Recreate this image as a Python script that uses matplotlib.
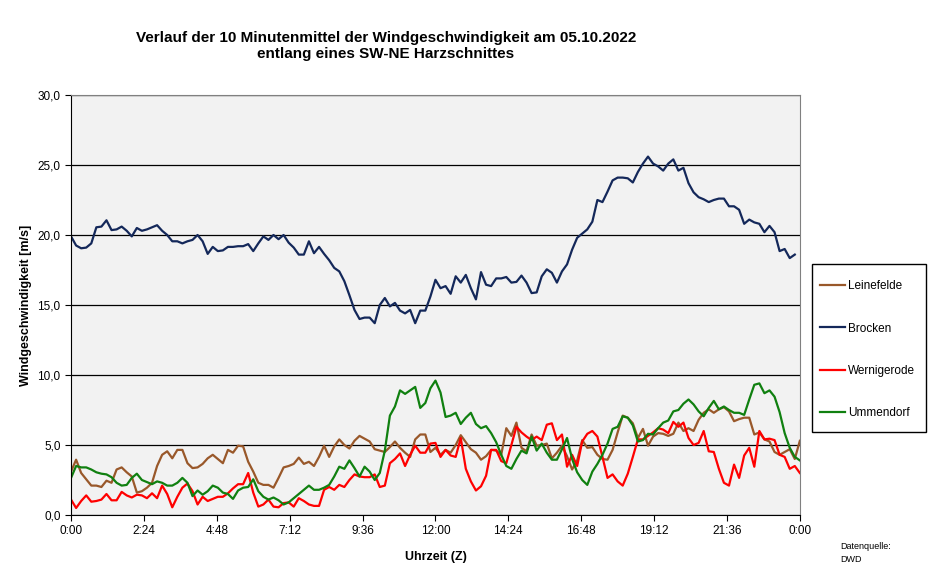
import numpy as np
import matplotlib
matplotlib.use("Agg")
import matplotlib.pyplot as plt
from matplotlib.patches import Rectangle

plt.rcParams["font.family"] = ["Liberation Sans", "DejaVu Sans"]

# 10-Minutenmittel, Index 0 = 0:00
brocken = [19.9, 19.25, 19.05, 19.1, 19.4, 20.55, 20.6, 21.05, 20.35, 20.4,
           20.6, 20.3, 19.9, 20.5, 20.3, 20.4, 20.55, 20.7, 20.3, 20.0,
           19.55, 19.55, 19.4, 19.55, 19.65, 20.0, 19.55, 18.65, 19.15, 18.85,
           18.9, 19.15, 19.15, 19.2, 19.2, 19.35, 18.85, 19.4, 19.9, 19.65,
           20.0, 19.7, 20.0, 19.45, 19.1, 18.6, 18.6, 19.55, 18.7, 19.15,
           18.65, 18.2, 17.65, 17.4, 16.7, 15.7, 14.65, 14.0, 14.1, 14.1,
           13.7, 15.0, 15.5, 14.9, 15.15, 14.6, 14.4, 14.65, 13.7, 14.6,
           14.6, 15.6, 16.8, 16.2, 16.35, 15.8, 17.05, 16.6, 17.15, 16.2,
           15.4, 17.35, 16.45, 16.35, 16.9, 16.9, 17.0, 16.6, 16.65, 17.1,
           16.6, 15.85, 15.9, 17.05, 17.55, 17.3, 16.6, 17.4, 17.9, 18.95,
           19.8, 20.1, 20.4, 20.95, 22.5, 22.35, 23.1, 23.9, 24.1, 24.1,
           24.05, 23.75, 24.5, 25.1, 25.6, 25.1, 24.9, 24.6, 25.1, 25.4,
           24.6, 24.8, 23.7, 23.05, 22.7, 22.55, 22.35, 22.5, 22.6, 22.6,
           22.05, 22.05, 21.8, 20.8, 21.1, 20.9, 20.8, 20.2, 20.65, 20.2,
           18.85, 19.0, 18.35, 18.6]

leinefelde = [3.1, 3.95, 3.0, 2.55, 2.1, 2.1, 2.0, 2.45, 2.3, 3.25,
              3.4, 3.05, 2.75, 1.6, 1.7, 1.95, 2.3, 3.5, 4.3, 4.55,
              4.05, 4.65, 4.65, 3.7, 3.35, 3.4, 3.65, 4.05, 4.3, 4.0,
              3.7, 4.65, 4.45, 4.95, 4.9, 3.8, 3.1, 2.3, 2.15, 2.15,
              1.95, 2.65, 3.4, 3.5, 3.65, 4.1, 3.65, 3.8, 3.5, 4.15,
              4.95, 4.15, 4.9, 5.4, 5.0, 4.75, 5.3, 5.65, 5.45, 5.25,
              4.7, 4.6, 4.5, 4.85, 5.25, 4.8, 4.45, 4.15, 5.4, 5.75,
              5.75, 4.5, 4.8, 4.3, 4.65, 4.45, 5.0, 5.7, 5.2, 4.7,
              4.45, 3.95, 4.2, 4.65, 4.6, 4.3, 6.2, 5.65, 6.6, 4.8,
              4.55, 5.75, 4.95, 5.0, 5.1, 4.05, 4.45, 4.95, 4.2, 3.25,
              3.9, 5.35, 4.8, 4.85, 4.3, 4.0, 3.95, 4.65, 5.9, 7.1,
              6.95, 6.55, 5.5, 6.15, 4.95, 5.6, 5.85, 5.8, 5.65, 5.8,
              6.6, 6.0, 6.2, 6.0, 6.8, 7.3, 7.55, 7.3, 7.55, 7.7,
              7.4, 6.7, 6.85, 6.95, 6.95, 5.75, 5.9, 5.4, 5.25, 4.5,
              4.3, 4.5, 4.7, 4.0, 5.3]

wernigerode = [1.1, 0.5, 1.0, 1.4, 0.95, 1.0, 1.1, 1.5, 1.05, 1.05,
               1.65, 1.4, 1.25, 1.45, 1.4, 1.2, 1.55, 1.2, 2.1, 1.5,
               0.55, 1.3, 1.95, 2.25, 1.7, 0.75, 1.3, 1.0, 1.15, 1.3,
               1.3, 1.55, 1.9, 2.2, 2.2, 3.0, 1.6, 0.6, 0.75, 1.1,
               0.6, 0.55, 0.85, 0.9, 0.6, 1.2, 1.0, 0.75, 0.65, 0.65,
               1.8, 2.0, 1.8, 2.15, 2.0, 2.5, 2.9, 2.75, 2.7, 2.7,
               2.9, 2.0, 2.1, 3.7, 4.0, 4.4, 3.5, 4.3, 4.95, 4.45,
               4.45, 5.1, 5.15, 4.15, 4.65, 4.25, 4.15, 5.5, 3.3, 2.4,
               1.75, 2.05, 2.8, 4.65, 4.65, 3.85, 3.7, 5.0, 6.3, 5.9,
               5.6, 5.35, 5.6, 5.35, 6.45, 6.55, 5.35, 5.75, 3.45, 4.3,
               3.5, 5.25, 5.8, 6.0, 5.6, 4.15, 2.65, 2.9, 2.4, 2.1,
               2.95, 4.15, 5.4, 5.4, 5.65, 5.9, 6.2, 6.1, 5.85, 6.65,
               6.3, 6.6, 5.5, 5.0, 5.15, 6.0, 4.55, 4.5, 3.3, 2.3,
               2.1, 3.6, 2.65, 4.25, 4.8, 3.45, 6.0, 5.4, 5.45, 5.35,
               4.3, 4.15, 3.3, 3.5, 3.0]

ummendorf = [2.65, 3.5, 3.4, 3.4, 3.25, 3.05, 2.95, 2.9, 2.7, 2.3,
             2.1, 2.15, 2.65, 2.95, 2.5, 2.35, 2.2, 2.4, 2.3, 2.1,
             2.1, 2.3, 2.65, 2.3, 1.35, 1.75, 1.45, 1.7, 2.1, 1.95,
             1.6, 1.5, 1.15, 1.75, 1.95, 2.0, 2.55, 1.7, 1.3, 1.1,
             1.25, 1.05, 0.75, 0.9, 1.2, 1.5, 1.8, 2.1, 1.8, 1.8,
             1.95, 2.15, 2.75, 3.45, 3.3, 3.9, 3.35, 2.75, 3.45, 3.1,
             2.5, 3.0, 4.6, 7.1, 7.75, 8.9, 8.65, 8.9, 9.15, 7.65,
             8.0, 9.05, 9.6, 8.75, 7.0, 7.1, 7.3, 6.5, 6.95, 7.3,
             6.5, 6.2, 6.35, 5.85, 5.2, 4.3, 3.5, 3.3, 4.0, 4.6,
             4.4, 5.6, 4.6, 5.1, 4.45, 3.95, 3.95, 4.7, 5.5, 4.0,
             3.05, 2.5, 2.15, 3.1, 3.65, 4.3, 5.1, 6.15, 6.3, 7.05,
             6.95, 6.4, 5.25, 5.35, 5.8, 5.75, 6.2, 6.6, 6.75, 7.4,
             7.5, 7.95, 8.25, 7.9, 7.4, 7.05, 7.65, 8.15, 7.55, 7.75,
             7.5, 7.3, 7.3, 7.15, 8.25, 9.3, 9.4, 8.7, 8.9, 8.45,
             7.35, 5.85, 4.8, 4.15, 3.9]

zeit_labels = ["0:00", "2:24", "4:48", "7:12", "9:36", "12:00",
               "14:24", "16:48", "19:12", "21:36", "0:00"]
y_labels = ["0,0", "5,0", "10,0", "15,0", "20,0", "25,0", "30,0"]

fig = plt.figure(figsize=(9.41, 5.81), dpi=100)
ax = fig.add_axes([0.0755, 0.1136, 0.7745, 0.7229])
ax.set_facecolor("#f2f2f2")

lw = 1.6
l1, = ax.plot(np.arange(len(leinefelde)), leinefelde, color="#99582a", lw=lw)
l2, = ax.plot(np.arange(len(brocken)), brocken, color="#14285a", lw=lw)
l3, = ax.plot(np.arange(len(wernigerode)), wernigerode, color="#ff0000", lw=lw)
l4, = ax.plot(np.arange(len(ummendorf)), ummendorf, color="#108010", lw=lw)

ax.set_xlim(0, 144)
ax.set_ylim(0, 30)
ax.set_xticks(np.linspace(0, 144, 11))
ax.set_xticklabels(zeit_labels, fontsize=8.5)
ax.set_yticks(np.arange(0, 31, 5))
ax.set_yticklabels(y_labels, fontsize=8.5)
ax.tick_params(direction="out", length=4, width=0.8, color="black")
ax.yaxis.grid(True, color="black", lw=0.9)
ax.set_axisbelow(True)
for s in ["top", "right"]:
    ax.spines[s].set_color("#808080")
for s in ["left", "bottom"]:
    ax.spines[s].set_color("black")

ax.set_xlabel("Uhrzeit (Z)", fontsize=9, fontweight="bold", labelpad=10)
ax.set_ylabel("Windgeschwindigkeit [m/s]", fontsize=9, fontweight="bold", labelpad=4)

fig.text(0.41, 0.921, "Verlauf der 10 Minutenmittel der Windgeschwindigkeit am 05.10.2022\n"
         "entlang eines SW-NE Harzschnittes", ha="center", va="center",
         fontsize=11, fontweight="bold", linespacing=1.15)

# Legendenrahmen
fig.patches.append(Rectangle((812 / 941, 1 - 432 / 581), 114 / 941, 168 / 581,
                             transform=fig.transFigure, facecolor="white",
                             edgecolor="black", lw=1.0, zorder=1))

leg = fig.legend([l1, l2, l3, l4], ["Leinefelde", "Brocken", "Wernigerode", "Ummendorf"],
                 loc="upper left", bbox_to_anchor=(0.8714, 0.518), fontsize=8.5,
                 frameon=False, handlelength=2.1, handletextpad=0.3,
                 labelspacing=2.58, borderpad=0, borderaxespad=0)
leg.set_zorder(2)

fig.text(0.893, 0.048, "Datenquelle:\nDWD", fontsize=6.5, ha="left", va="center",
         linespacing=1.6)

fig.savefig("out.png", dpi=100)
